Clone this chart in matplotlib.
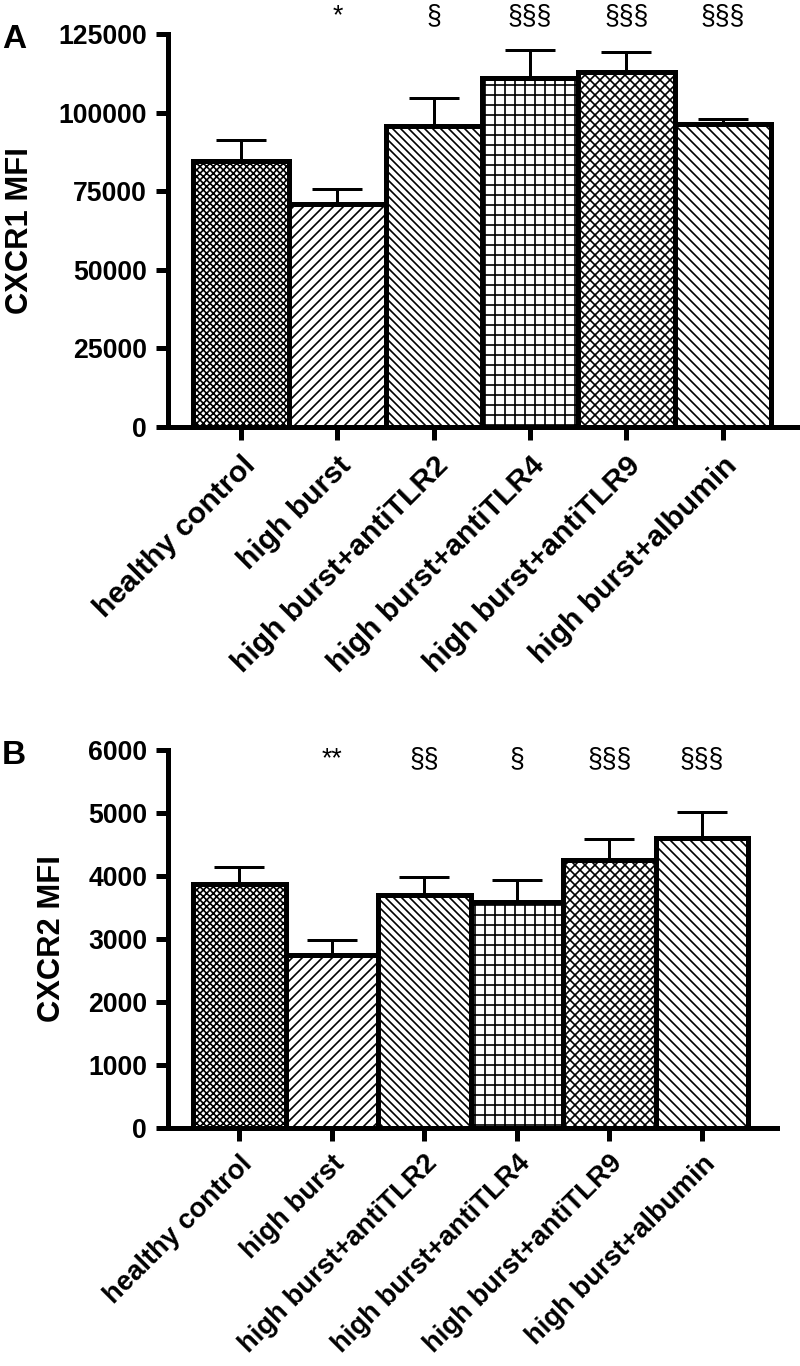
import numpy as np
import matplotlib
matplotlib.use('Agg')
import matplotlib.pyplot as plt
import matplotlib.transforms as mtransforms

plt.rcParams['font.family'] = ['Liberation Sans', 'DejaVu Sans']
plt.rcParams['hatch.linewidth'] = 1.0

groups = ['healthy control', 'high burst', 'high burst+antiTLR2',
          'high burst+antiTLR4', 'high burst+antiTLR9', 'high burst+albumin']
hatches = ['xxxxxx', '////', '\\' * 5, '++', 'xxxx', '\\' * 4]

# panel A: CXCR1
cxcr1_mean = [84500, 71000, 95700, 110900, 112800, 96300]
cxcr1_sem = [6700, 4700, 8800, 9100, 6600, 1600]
cxcr1_sig = ['', '*', '§', '§§§', '§§§', '§§§']
cxcr1_ticks = [0, 25000, 50000, 75000, 100000, 125000]

# panel B: CXCR2
cxcr2_mean = [3880, 2750, 3700, 3590, 4250, 4600]
cxcr2_sem = [260, 235, 285, 350, 340, 415]
cxcr2_sig = ['', '**', '§§', '§', '§§§', '§§§']
cxcr2_ticks = [0, 1000, 2000, 3000, 4000, 5000, 6000]

W, H, DPI = 800, 1366, 120
fig = plt.figure(figsize=(W / DPI, H / DPI), dpi=DPI)


def panel(rect, mean, sem, sig, ticks, ylabel, letter, letter_y, sig_y, xlim,
          labx, xfs, xpad):
    ax = fig.add_axes(rect)
    x = np.arange(len(groups))
    ax.bar(x, mean, width=1.0, color='white', edgecolor='black',
           linewidth=3, hatch=hatches, zorder=2)
    ax.errorbar(x, mean, yerr=[np.zeros(len(mean)), sem], fmt='none',
                ecolor='black', elinewidth=1.8, capsize=15, capthick=1.8, zorder=3)
    for xi, s in zip(x, sig):
        if s:
            ax.text(xi, sig_y, s, ha='center', va='center', fontsize=16,
                    clip_on=False)
    ax.set_xlim(*xlim)
    ax.set_ylim(ticks[0], ticks[-1])
    ax.set_yticks(ticks)
    ax.set_yticklabels([str(t) for t in ticks], fontsize=16, fontweight='bold')
    ax.set_xticks(x)
    ax.set_xticklabels(groups, rotation=45, ha='right', rotation_mode='anchor',
                       fontsize=xfs, fontweight='bold')
    shift = mtransforms.ScaledTranslation(7 / DPI, 0, fig.dpi_scale_trans)
    for lab in ax.get_xticklabels():
        lab.set_transform(lab.get_transform() + shift)
    ax.spines['top'].set_visible(False)
    ax.spines['right'].set_visible(False)
    ax.spines['left'].set_linewidth(3)
    ax.spines['bottom'].set_linewidth(3)
    ax.tick_params(width=3, length=7.5, direction='out', pad=5)
    ax.tick_params(axis='x', pad=xpad)
    ax.set_ylabel(ylabel, fontsize=18.5, fontweight='bold', va='center', ha='center')
    ax.yaxis.set_label_coords(labx, 0.5)
    fig.text(14 / W, 1 - letter_y / H, letter, fontsize=20, fontweight='bold',
             ha='center', va='center')
    return ax


panel([168 / W, 1 - 427 / H, 630 / W, 393 / H], cxcr1_mean, cxcr1_sem, cxcr1_sig,
      cxcr1_ticks, 'CXCR1 MFI', 'A', 40, 130500, (-0.758, 5.78), -0.235, 18, 7)
panel([168 / W, 1 - 1128 / H, 609 / W, 378 / H], cxcr2_mean, cxcr2_sem, cxcr2_sig,
      cxcr2_ticks, 'CXCR2 MFI', 'B', 755, 5850, (-0.77, 5.81), -0.19, 16.5, 6)

fig.savefig('out.png', dpi=DPI)
